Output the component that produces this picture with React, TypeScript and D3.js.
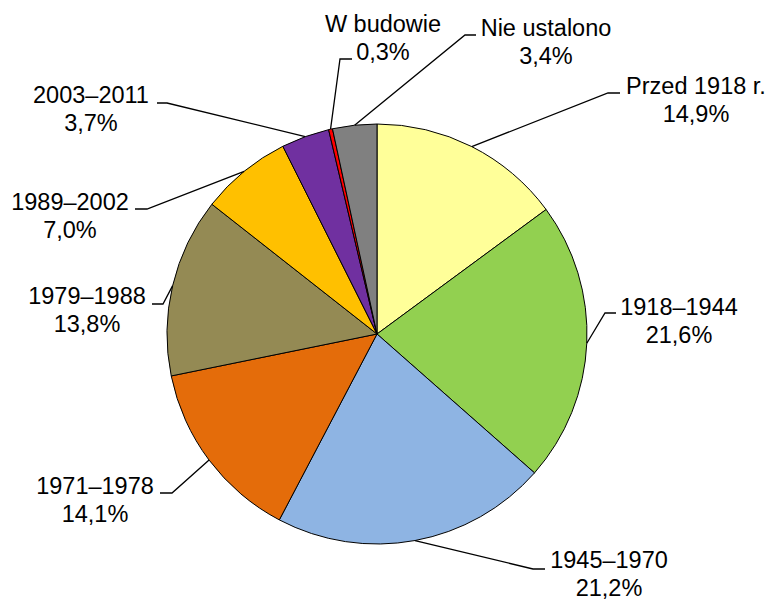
import React from 'react';
import * as d3 from 'd3';

// budynki wg okresu budowy (%)
const categories = ['Przed 1918 r.', '1918–1944', '1945–1970', '1971–1978', '1979–1988', '1989–2002', '2003–2011', 'W budowie', 'Nie ustalono'];
const values = [14.9, 21.6, 21.2, 14.1, 13.8, 7.0, 3.7, 0.3, 3.4];
const colors = ['#FFFF99', '#92D050', '#8EB4E3', '#E46C0A', '#948A54', '#FFC000', '#7030A0', '#FF0000', '#808080'];

// label placement: elbow of the leader, end of short horizontal, text centre x, first baseline
const labelLayout = [
  {ex: 608, hx: 620, ly: 93, tx: 696, ty: 94},
  {ex: 605, hx: 616, ly: 313, tx: 679, ty: 315},
  {ex: 533, hx: 545, ly: 569, tx: 609, ty: 568},
  {ex: 172, hx: 160, ly: 493, tx: 95, ty: 494},
  {ex: 163, hx: 152, ly: 304, tx: 87, ty: 304},
  {ex: 147, hx: 135, ly: 209, tx: 70, ty: 210},
  {ex: 167, hx: 157, ly: 103, tx: 91, ty: 103},
  {ex: 340, hx: 352, ly: 59, tx: 383, ty: 32},
  {ex: 465, hx: 476, ly: 35, tx: 546, ty: 36}
];

const W = 768;
const H = 599;
const cx = 377;
const cy = 334;
const R = 210;

const fmt = (v: number) => v.toFixed(1).replace('.', ',') + '%';

export default function App() {
  const pie = d3.pie<number>().sort(null).value(d => d);
  const arcs = pie(values);
  const arcPath = d3.arc<d3.PieArcDatum<number>>().innerRadius(0).outerRadius(R);

  return (
    <svg width={W} height={H} style={{position: 'absolute', left: 0, top: 0, background: '#fff'}}
      fontFamily="'Liberation Sans', Arial, sans-serif" fontSize={23.5}>
      <g transform={`translate(${cx},${cy})`}>
        {arcs.map((a, i) => (
          <path key={i} d={arcPath(a) || ''} fill={colors[i]} stroke="#000" strokeWidth={1} strokeLinejoin="round" />
        ))}
      </g>
      {arcs.map((a, i) => {
        const mid = (a.startAngle + a.endAngle) / 2;
        const px = cx + R * Math.sin(mid);
        const py = cy - R * Math.cos(mid);
        const l = labelLayout[i];
        return (
          <g key={i}>
            <polyline points={`${px},${py} ${l.ex},${l.ly} ${l.hx},${l.ly}`} fill="none" stroke="#000" strokeWidth={1.3} />
            <text x={l.tx} y={l.ty} textAnchor="middle" fill="#000">{categories[i]}</text>
            <text x={l.tx} y={l.ty + 27.5} textAnchor="middle" fill="#000">{fmt(values[i])}</text>
          </g>
        );
      })}
    </svg>
  );
}
